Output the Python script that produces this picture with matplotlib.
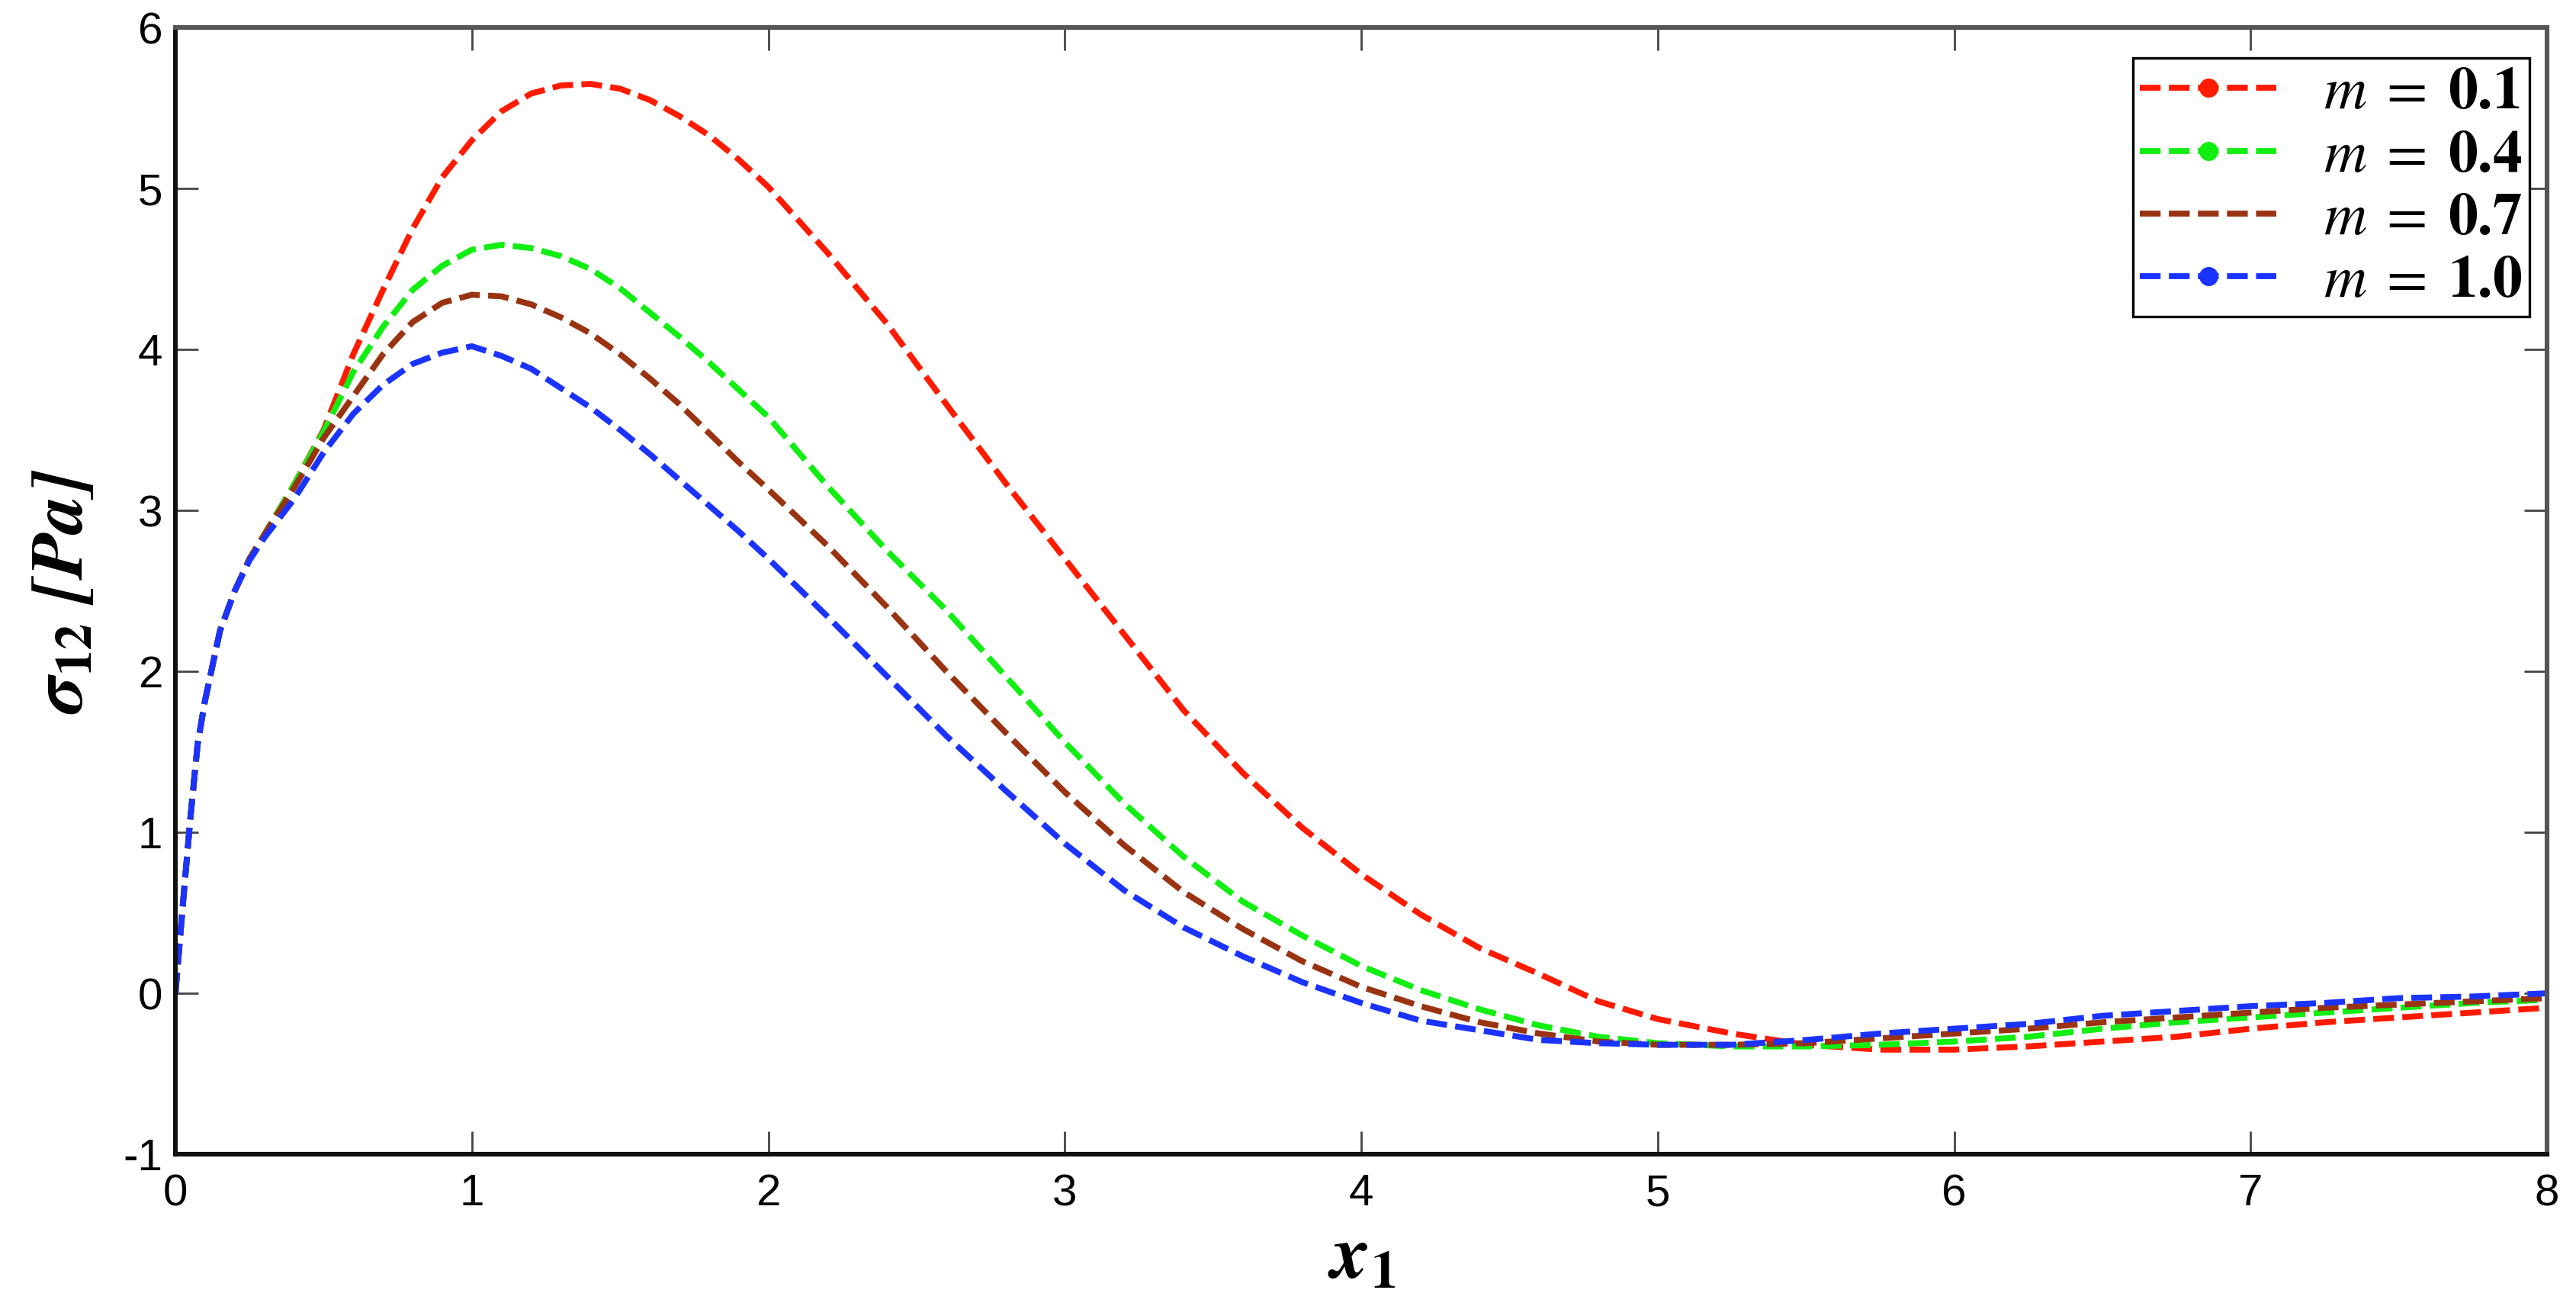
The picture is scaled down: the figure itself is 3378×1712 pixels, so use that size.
import numpy as np
import matplotlib
matplotlib.use("Agg")
import matplotlib.pyplot as plt
from matplotlib.lines import Line2D

# x positions along the bar (x1)
x1 = [0.0, 0.025, 0.05, 0.075, 0.1, 0.15, 0.2, 0.25, 0.3, 0.4, 0.5, 0.6, 0.7, 0.8, 0.9,
      1.0, 1.1, 1.2, 1.3, 1.4, 1.5, 1.6, 1.7, 1.8, 1.9, 2.0, 2.2, 2.4, 2.6, 2.8, 3.0,
      3.2, 3.4, 3.6, 3.8, 4.0, 4.2, 4.4, 4.6, 4.8, 5.0, 5.25, 5.5, 5.75, 6.0, 6.25,
      6.5, 6.75, 7.0, 7.25, 7.5, 7.75, 8.0]

# shear stress sigma_12 [Pa] for each m
sigma_m01 = [0.0, 0.55, 1.08, 1.55, 1.82, 2.25, 2.5, 2.7, 2.85, 3.16, 3.5, 3.97, 4.37, 4.75, 5.07,
             5.3, 5.48, 5.59, 5.64, 5.65, 5.62, 5.55, 5.45, 5.33, 5.18, 5.01, 4.6, 4.16, 3.66, 3.17, 2.7,
             2.23, 1.76, 1.37, 1.03, 0.74, 0.49, 0.28, 0.12, -0.05, -0.16, -0.25, -0.32, -0.35, -0.35, -0.33,
             -0.3, -0.27, -0.22, -0.18, -0.15, -0.12, -0.09]
sigma_m04 = [0.0, 0.55, 1.08, 1.55, 1.82, 2.25, 2.5, 2.7, 2.85, 3.16, 3.49, 3.86, 4.14, 4.37, 4.52,
             4.62, 4.65, 4.63, 4.58, 4.5, 4.38, 4.23, 4.08, 3.92, 3.75, 3.58, 3.15, 2.75, 2.38, 1.97, 1.56,
             1.18, 0.85, 0.57, 0.36, 0.17, 0.02, -0.1, -0.2, -0.27, -0.31, -0.33, -0.33, -0.32, -0.3, -0.27,
             -0.22, -0.18, -0.15, -0.12, -0.09, -0.06, -0.04]
sigma_m07 = [0.0, 0.55, 1.08, 1.55, 1.82, 2.25, 2.5, 2.7, 2.85, 3.14, 3.45, 3.71, 3.97, 4.17, 4.29,
             4.34, 4.33, 4.28, 4.2, 4.1, 3.97, 3.82, 3.66, 3.48, 3.3, 3.13, 2.78, 2.4, 2.0, 1.62, 1.25,
             0.92, 0.63, 0.4, 0.2, 0.04, -0.08, -0.18, -0.25, -0.3, -0.32, -0.32, -0.31, -0.28, -0.25, -0.22,
             -0.18, -0.15, -0.12, -0.09, -0.07, -0.05, -0.03]
sigma_m10 = [0.0, 0.55, 1.08, 1.55, 1.82, 2.25, 2.5, 2.69, 2.83, 3.07, 3.36, 3.6, 3.78, 3.91, 3.98,
             4.02, 3.96, 3.88, 3.76, 3.64, 3.5, 3.35, 3.19, 3.03, 2.87, 2.7, 2.34, 1.97, 1.6, 1.26, 0.93,
             0.64, 0.41, 0.23, 0.07, -0.06, -0.17, -0.23, -0.29, -0.31, -0.32, -0.32, -0.29, -0.25, -0.22, -0.19,
             -0.14, -0.11, -0.08, -0.06, -0.03, -0.02, 0.0]

series = [sigma_m01, sigma_m04, sigma_m07, sigma_m10]
labels = [r'$m\;=\;\mathbf{0.1}\,$', r'$m\;=\;\mathbf{0.4}\,$', r'$m\;=\;\mathbf{0.7}\,$', r'$m\;=\;\mathbf{1.0}\,$']
colors = ['#ff1a00', '#11ee11', '#993311', '#1a33ff']
legend_marker = [True, True, False, True]


def main():
    plt.rcParams['mathtext.fontset'] = 'custom'
    plt.rcParams['mathtext.rm'] = 'STIXGeneral'
    plt.rcParams['mathtext.it'] = 'STIXGeneral:italic'
    plt.rcParams['mathtext.bf'] = 'STIXGeneral:bold'
    plt.rcParams['mathtext.bfit'] = 'STIXGeneral:italic:bold'
    plt.rcParams['font.family'] = ['Liberation Sans', 'DejaVu Sans']
    plt.rcParams['axes.unicode_minus'] = False

    fig = plt.figure(figsize=(16.89, 8.56), dpi=200)
    ax = fig.add_axes([0.0681, 0.1162, 0.9207, 0.8627])

    handles = []
    for y, lab, c, mk in zip(series, labels, colors, legend_marker):
        ax.plot(x1, y, color=c, lw=2.8, ls='--', dashes=(3.5, 1.4))
        handles.append(Line2D([], [], color=c, lw=2.8, ls='--', dashes=(3.5, 1.4),
                              marker='o' if mk else None, markersize=8, label=lab))

    ax.set_xlim(0, 8)
    ax.set_ylim(-1, 6)
    ax.set_xticks(range(0, 9))
    ax.set_yticks(range(-1, 7))

    ax.tick_params(direction='in', length=10.8, width=1.0, color='#444',
                   top=True, right=True, labelsize=21)
    ax.tick_params(axis='x', pad=9)
    ax.tick_params(axis='y', pad=6)

    for side in ['left', 'bottom']:
        ax.spines[side].set_linewidth(2.2)
        ax.spines[side].set_color('#111')
    for side in ['top', 'right']:
        ax.spines[side].set_linewidth(2.2)
        ax.spines[side].set_color('#555')

    ax.set_xlabel(r'$\mathbfit{x}_{\mathbf{1}}$', fontsize=36, labelpad=4)
    ax.set_ylabel(r'$\mathbfit{\sigma}_{\mathbf{12}}\ \mathbfit{[Pa]}$', fontsize=35, labelpad=12)

    leg = ax.legend(handles=handles, loc='upper right', bbox_to_anchor=(0.9926, 0.9729),
                    borderaxespad=0, fontsize=28, numpoints=1, handlelength=2.3,
                    handletextpad=0.8, borderpad=0.12, labelspacing=0.12,
                    fancybox=False, framealpha=1, edgecolor='black')
    leg.get_frame().set_linewidth(1.2)

    fig.savefig('out.png', dpi=200)


if __name__ == '__main__':
    main()
